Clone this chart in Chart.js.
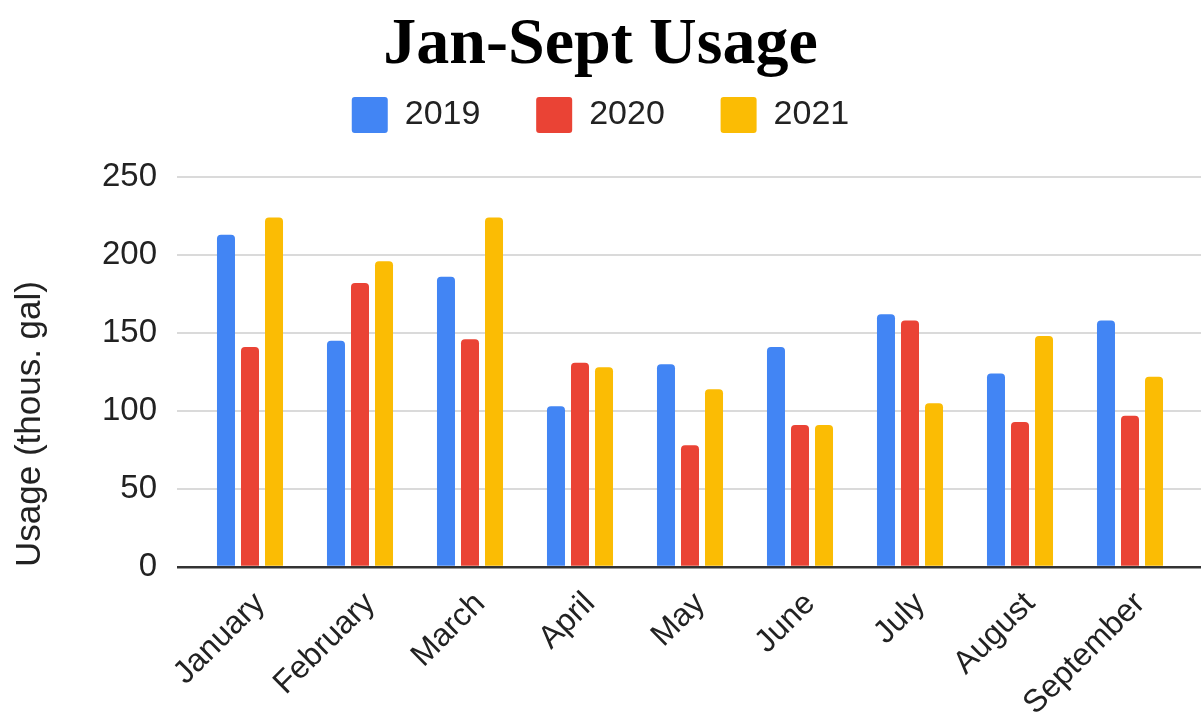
<!DOCTYPE html>
<html>
<head>
<meta charset="utf-8">
<script src="https://cdn.jsdelivr.net/npm/chart.js@4"></script>
<style>
  body { margin: 0; background: #fff; }
  canvas { display: block; }
</style>
</head>
<body>
<canvas id="myChart" width="1201" height="724"></canvas>
<script>
// data
const months = ["January", "February", "March", "April", "May", "June", "July", "August", "September"];
const years = ["2019", "2020", "2021"];
const usage2019 = [213, 145, 186, 103, 130, 141, 162, 124, 158];
const usage2020 = [141, 182, 146, 131, 78, 91, 158, 93, 97];
const usage2021 = [224, 196, 224, 128, 114, 91, 105, 148, 122];
const yTicks = [0, 50, 100, 150, 200, 250];
const colors = ["#4285f4", "#ea4335", "#fbbc04"];

const sans = "'Liberation Sans', Arial, sans-serif";

const gridColor = (c) => (c.tick && c.tick.value === 0 ? "#333" : "#dadada");
const gridWidth = (c) => (c.tick && c.tick.value === 0 ? 2.5 : 2);

const data = {
  labels: months,
  datasets: [usage2019, usage2020, usage2021].map((vals, i) => ({
    label: years[i],
    data: vals,
    backgroundColor: colors[i],
    borderRadius: 4,
    categoryPercentage: 0.655,
    barPercentage: 0.75,
  })),
};

const config = {
  type: "bar",
  data,
  options: {
    responsive: false,
    animation: false,
    plugins: {
      title: {
        display: true,
        text: "Jan-Sept Usage",
        color: "#000",
        font: { family: "'Liberation Serif', 'Times New Roman', serif", size: 66, weight: "bold", lineHeight: 1 },
        padding: { top: 13, bottom: 0 },
      },
      subtitle: {
        // spacer between legend and plot
        display: true,
        text: " ",
        font: { size: 10, lineHeight: 1 },
        padding: { top: 0, bottom: 24 },
      },
      legend: {
        position: "top",
        weight: 1700,
        labels: {
          color: "#222",
          font: { family: sans, size: 34 },
          boxWidth: 36,
          boxHeight: 36,
          padding: 18,
          useBorderRadius: true,
          borderRadius: 3,
          generateLabels: (chart) => {
            const items = Chart.defaults.plugins.legend.labels.generateLabels(chart);
            items.forEach((it, i) => {
              if (i < items.length - 1) it.text = it.text + "    ";
            });
            return items;
          },
        },
      },
      tooltip: { enabled: false },
    },
    scales: {
      x: {
        grid: { display: false },
        border: { display: false },
        ticks: {
          color: "#222",
          font: { family: sans, size: 32 },
          minRotation: 45,
          maxRotation: 45,
          padding: 10,
          labelOffset: 10,
        },
        afterFit: (s) => { s.height = 157; },
      },
      y: {
        min: 0,
        max: 250,
        afterBuildTicks: (s) => { s.ticks = yTicks.map((v) => ({ value: v })); },
        grid: { color: gridColor, lineWidth: gridWidth, tickLength: 18 },
        border: { display: false },
        ticks: {
          color: "#222",
          font: { family: sans, size: 33 },
          padding: 20,
        },
        title: {
          display: true,
          text: "Usage (thous. gal)",
          color: "#222",
          font: { family: sans, size: 35, lineHeight: 1.2 },
          align: "start",
          padding: { top: 9, bottom: 0 },
        },
        afterFit: (s) => { s.width = 195; },
      },
      y2: {
        position: "right",
        min: 0,
        max: 250,
        afterBuildTicks: (s) => { s.ticks = yTicks.map((v) => ({ value: v })); },
        grid: { color: gridColor, lineWidth: gridWidth, tickLength: 16, drawOnChartArea: false },
        border: { display: false },
        ticks: { display: false },
        afterFit: (s) => { s.width = 16; },
      },
    },
  },
};

var myChart = new Chart(document.getElementById("myChart"), config);
</script>
</body>
</html>
